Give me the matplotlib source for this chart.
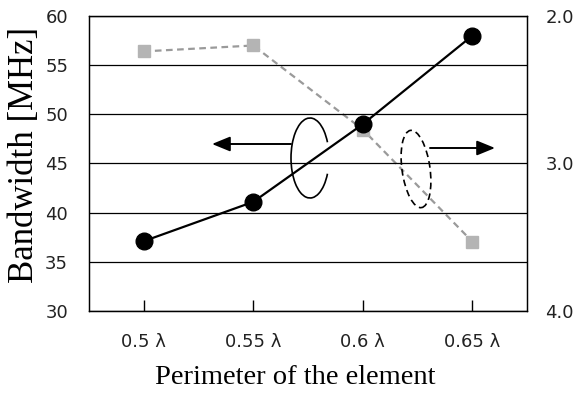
import matplotlib
matplotlib.use('Agg')
import matplotlib.pyplot as plt
from matplotlib.patches import Arc, Ellipse

# data
categories = ['0.5 λ', '0.55 λ', '0.6 λ', '0.65 λ']
bandwidth = [37.1, 41.1, 49.0, 58.0]        # left axis [MHz]
right_values = [2.24, 2.20, 2.77, 3.53]     # right axis (inverted, 2.0 - 4.0)

W, H = 5.78, 3.94
fig = plt.figure(figsize=(W, H), dpi=100)
ax = fig.add_axes([0.154, 0.2107, 0.758, 0.7487])
x = range(len(categories))

# horizontal grid lines like the Excel chart
ax.set_ylim(30, 60)
ax.set_yticks(range(30, 61, 5))
ax.yaxis.grid(True, color='black', linewidth=0.9)
ax.set_axisbelow(True)
ax.set_xlim(-0.5, len(categories) - 0.5)
ax.set_xticks(list(x))
ax.set_xticklabels(categories)

for s in ax.spines.values():
    s.set_linewidth(0.9)
ax.tick_params(axis='x', direction='in', length=8, width=1, pad=16,
               labelsize=13, labelcolor='#222222')
ax.tick_params(axis='y', length=0, pad=15, labelsize=13, labelcolor='#222222')

ax.plot(x, bandwidth, color='black', linewidth=1.6, marker='o',
        markersize=12, zorder=5)

ax.set_xlabel('Perimeter of the element', family='Liberation Serif',
              fontsize=20.5, labelpad=10)
ax.xaxis.label.set_x(0.47)
ax.set_ylabel('Bandwidth [MHz]', family='Liberation Serif', fontsize=25,
              labelpad=3)
ax.yaxis.label.set_y(0.53)

ax2 = ax.twinx()
ax2.set_ylim(4.0, 2.0)
ax2.set_yticks([2.0, 3.0, 4.0])
ax2.set_yticklabels(['2.0', '3.0', '4.0'])
ax2.tick_params(axis='y', length=0, pad=13, labelsize=13, labelcolor='#222222')
for s in ax2.spines.values():
    s.set_linewidth(0.9)
ax2.plot(x, right_values, color='#9a9a9a', linewidth=1.6, linestyle=(0, (3, 2)),
         marker='s', markersize=9, markerfacecolor='#b4b4b4',
         markeredgecolor='#b4b4b4', zorder=4)
ax.set_zorder(ax2.get_zorder() + 1)
ax.patch.set_visible(False)


def px(xp, yp):
    # pixel position (from top-left) -> inches for dpi_scale_trans
    return (xp / 100.0, H - yp / 100.0)


tr = fig.dpi_scale_trans
head = '-|>,head_length=1.1,head_width=0.45'

# left-axis indicator: arc with arrow pointing left
ax.add_patch(Arc(px(310, 158), 0.38, 0.80, theta1=42, theta2=318,
                 color='black', linewidth=1.2, transform=tr, zorder=6))
ax.annotate('', xy=px(212, 144), xytext=px(291, 144), xycoords=tr,
            arrowprops=dict(arrowstyle=head, color='black', linewidth=1.4,
                            shrinkA=0, shrinkB=0), zorder=6)

# right-axis indicator: dashed ellipse with arrow pointing right
ax.add_patch(Ellipse(px(416, 169), 0.28, 0.78, angle=8, fill=False,
                     color='black', linewidth=1.2, linestyle=(0, (4, 2.5)),
                     transform=tr, zorder=6))
ax.annotate('', xy=px(495, 148), xytext=px(430, 148), xycoords=tr,
            arrowprops=dict(arrowstyle=head, color='black', linewidth=1.4,
                            shrinkA=0, shrinkB=0), zorder=6)

fig.savefig('out.png', dpi=100)
